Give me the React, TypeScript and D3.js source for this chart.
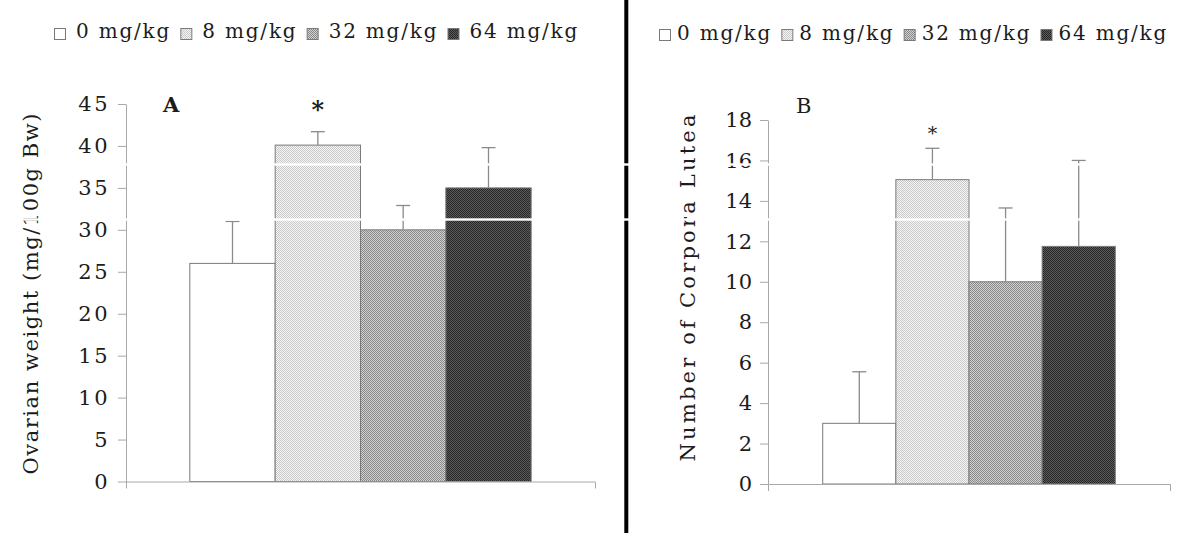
import React, { useEffect, useRef } from "react";
import * as d3 from "d3";

// ---- data ----
const doses = ["0 mg/kg", "8 mg/kg", "32 mg/kg", "64 mg/kg"];
const ovarianMeans = [26.0, 40.1, 30.0, 35.0];
const ovarianErrors = [5.0, 1.6, 2.9, 4.8];
const ovarianTicks = [0, 5, 10, 15, 20, 25, 30, 35, 40, 45];
const ovarianSig = ["", "*", "", ""];
const lutealMeans = [3.0, 15.05, 10.0, 11.75];
const lutealErrors = [2.55, 1.55, 3.65, 4.25];
const lutealTicks = [0, 2, 4, 6, 8, 10, 12, 14, 16, 18];
const lutealSig = ["", "*", "", ""];
const panelLetters = ["A", "B"];
const yTitles = ["Ovarian weight (mg/100g Bw)", "Number of Corpora Lutea"];

const FONT = "'DejaVu Serif', serif";
const TXT = "#1c1c1c";
const AX = "#a8a8a8";
const fills = ["#ffffff", "url(#pLight)", "url(#pMed)", "url(#pDark)"];
const LEG_LS = 1.8;

export default function App() {
  const ref = useRef<SVGSVGElement | null>(null);

  useEffect(() => {
    const svg = d3.select(ref.current);
    svg.selectAll("*").remove();
    const defs = svg.append("defs");
    const checker = (id: string, a: string, b: string) => {
      const p = defs
        .append("pattern")
        .attr("id", id)
        .attr("width", 2)
        .attr("height", 2)
        .attr("patternUnits", "userSpaceOnUse");
      p.append("rect").attr("width", 2).attr("height", 2).attr("fill", a);
      p.append("rect").attr("width", 1).attr("height", 1).attr("fill", b);
      p.append("rect").attr("x", 1).attr("y", 1).attr("width", 1).attr("height", 1).attr("fill", b);
    };
    checker("pLight", "#f6f6f6", "#c8c8c8");
    checker("pMed", "#d2d2d2", "#888888");
    checker("pDark", "#5c5c5c", "#262626");

    svg.append("rect").attr("width", 1200).attr("height", 533).attr("fill", "#fff");

    const panels = [
      {
        means: ovarianMeans, errs: ovarianErrors, ticks: ovarianTicks, sig: ovarianSig,
        axisX: 126, axisRight: 595, y0: 481.5, yTop: 104, max: 45,
        tickFont: 21, tickLs: 2.5, tickPad: 8,
        letter: panelLetters[0], letterX: 163, letterY: 112, letterBold: true, letterSize: 21,
        sigSize: 24, sigBold: true, sigVal: 44.9, sigOff: 13,
        title: yTitles[0], titleX: 38, titleY: 294, titleSize: 21, titleLen: 361,
        legend: { x: 54, boxY: 28, base: 38, boxGap: 11, itemGap: 11 },
      },
      {
        means: lutealMeans, errs: lutealErrors, ticks: lutealTicks, sig: lutealSig,
        axisX: 768, axisRight: 1170, y0: 484, yTop: 120, max: 18,
        tickFont: 21, tickLs: 0, tickPad: 8,
        letter: panelLetters[1], letterX: 796, letterY: 113, letterBold: false, letterSize: 21,
        sigSize: 19, sigBold: false, sigVal: 17.55, sigOff: 11,
        title: yTitles[1], titleX: 695, titleY: 288, titleSize: 21, titleLen: 347,
        legend: { x: 659, boxY: 29, base: 40, boxGap: 7, itemGap: 11 },
      },
    ];

    panels.forEach((P) => {
      const g = svg.append("g");
      const y = d3.scaleLinear().domain([0, P.max]).range([P.y0, P.yTop]);
      const x0 = d3
        .scaleBand<string>()
        .domain(["group"])
        .range([P.axisX, P.axisRight])
        .paddingInner(0)
        .paddingOuter(0.187);
      const x1 = d3.scaleBand<string>().domain(doses).range([0, x0.bandwidth()]);
      const gx = x0("group") as number;

      // bars
      g.selectAll("rect.bar")
        .data(doses)
        .join("rect")
        .attr("class", "bar")
        .attr("x", (d) => gx + (x1(d) as number))
        .attr("width", x1.bandwidth())
        .attr("y", (d, i) => y(P.means[i]))
        .attr("height", (d, i) => y(0) - y(P.means[i]))
        .attr("fill", (d, i) => fills[i])
        .attr("stroke", "#7a7a7a")
        .attr("stroke-width", 1);

      // error bars
      doses.forEach((d, i) => {
        const cx = gx + (x1(d) as number) + x1.bandwidth() / 2;
        const top = y(P.means[i] + P.errs[i]);
        g.append("line")
          .attr("x1", cx).attr("x2", cx)
          .attr("y1", y(P.means[i])).attr("y2", top)
          .attr("stroke", "#8a8a8a").attr("stroke-width", 1.3);
        g.append("line")
          .attr("x1", cx - 7).attr("x2", cx + 7)
          .attr("y1", top).attr("y2", top)
          .attr("stroke", "#8a8a8a").attr("stroke-width", 1.3);
        if (P.sig[i]) {
          g.append("text")
            .attr("x", cx)
            .attr("y", y(P.sigVal) + P.sigOff)
            .attr("text-anchor", "middle")
            .attr("font-family", FONT)
            .attr("font-size", P.sigSize)
            .attr("font-weight", P.sigBold ? "bold" : "normal")
            .attr("fill", TXT)
            .text(P.sig[i]);
        }
      });

      // y axis
      const ya = g
        .append("g")
        .attr("transform", `translate(${P.axisX},0)`)
        .call(
          d3.axisLeft(y).tickValues(P.ticks).tickSize(8).tickSizeOuter(0).tickPadding(P.tickPad)
        );
      ya.select(".domain").attr("stroke", AX);
      ya.selectAll(".tick line").attr("stroke", AX);
      ya.selectAll(".tick text")
        .attr("font-family", FONT)
        .attr("font-size", P.tickFont)
        .attr("letter-spacing", P.tickLs)
        .attr("fill", TXT);

      // x axis
      const xa = g
        .append("g")
        .attr("transform", `translate(0,${y(0)})`)
        .call(d3.axisBottom(x0).tickValues([]).tickSizeOuter(7));
      xa.select(".domain").attr("stroke", AX);

      // panel letter
      g.append("text")
        .attr("x", P.letterX)
        .attr("y", P.letterY)
        .attr("font-family", FONT)
        .attr("font-size", P.letterSize)
        .attr("font-weight", P.letterBold ? "bold" : "normal")
        .attr("fill", TXT)
        .text(P.letter);

      // y title
      g.append("text")
        .attr("transform", `translate(${P.titleX},${P.titleY}) rotate(-90)`)
        .attr("text-anchor", "middle")
        .attr("font-family", FONT)
        .attr("font-size", P.titleSize)
        .attr("textLength", P.titleLen)
        .attr("lengthAdjust", "spacing")
        .attr("fill", TXT)
        .text(P.title);

      // legend
      const L = P.legend;
      let cx = L.x;
      doses.forEach((d, i) => {
        g.append("rect")
          .attr("x", cx + 0.5)
          .attr("y", L.boxY + 0.5)
          .attr("width", 11)
          .attr("height", 11)
          .attr("fill", fills[i])
          .attr("stroke", "#7a7a7a")
          .attr("stroke-width", 1);
        cx += 11 + L.boxGap;
        const t = g
          .append("text")
          .attr("x", cx)
          .attr("y", L.base)
          .attr("font-family", FONT)
          .attr("font-size", 20)
          .attr("letter-spacing", LEG_LS)
          .attr("fill", TXT)
          .text(d);
        const w = (t.node() as SVGTextElement).getBBox().width;
        cx += w + L.itemGap - LEG_LS;
      });
    });

    // divider
    svg.append("rect").attr("x", 624.3).attr("y", 0).attr("width", 4).attr("height", 533).attr("fill", "#000");

    // scan gaps
    [163.3, 218.3].forEach((gy) => {
      svg.append("rect").attr("x", 0).attr("y", gy).attr("width", 1200).attr("height", 2.4).attr("fill", "#fff");
    });
  }, []);

  return (
    <svg
      ref={ref}
      width={1200}
      height={533}
      style={{ position: "absolute", left: 0, top: 0, display: "block" }}
    />
  );
}
